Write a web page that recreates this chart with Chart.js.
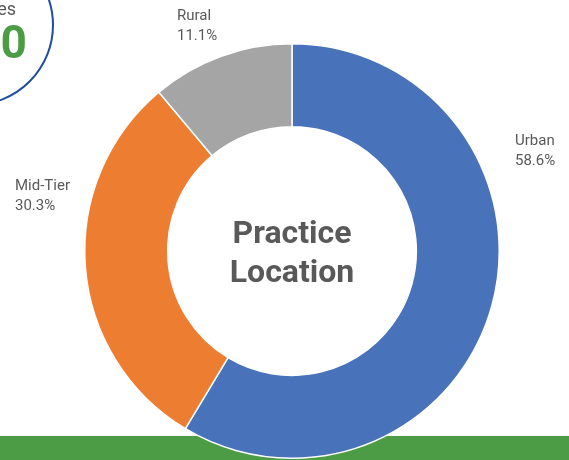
<!DOCTYPE html>
<html>
<head>
<meta charset="utf-8">
<script src="https://cdn.jsdelivr.net/npm/chart.js@4"></script>
<style>
    html, body { margin: 0; padding: 0; background: #fff; }
    #wrap { width: 569px; height: 460px; position: relative; }
</style>
</head>
<body>
<div id="wrap"><canvas id="locationChart"></canvas></div>
<script>
// Data
const categories = ['Urban', 'Mid-Tier', 'Rural'];
const shares = [58.6, 30.3, 11.1];
const sliceColors = ['#4872B9', '#ED7D31', '#A5A5A5'];
const centerLines = ['Practice', 'Location'];

// label anchor positions (text only)
const labelSpots = [
    { x: 515, y: 141 },
    { x: 15, y: 186 },
    { x: 177, y: 16 }
];

// Background bits: green band at bottom, partial badge at top-left
const backdrop = {
    id: 'backdrop',
    beforeDatasetsDraw(chart) {
        const ctx = chart.ctx;
        ctx.save();
        ctx.fillStyle = '#4C9C45';
        ctx.fillRect(0, 436, chart.width, chart.height - 436);

        ctx.beginPath();
        ctx.arc(-27, 25, 80, 0, Math.PI * 2);
        ctx.fillStyle = '#fff';
        ctx.fill();
        ctx.lineWidth = 2;
        ctx.strokeStyle = '#1F4E9C';
        ctx.stroke();

        ctx.textAlign = 'right';
        ctx.textBaseline = 'middle';
        ctx.fillStyle = '#595959';
        ctx.font = '18px Roboto';
        ctx.fillText('Practices', 16, 10);
        ctx.fillStyle = '#4C9C45';
        ctx.font = 'bold 46px Roboto';
        ctx.fillText('110', 27, 46);
        ctx.restore();
    }
};

// Centre title and outside labels
const annotations = {
    id: 'annotations',
    afterDraw(chart) {
        const ctx = chart.ctx;
        const arc = chart.getDatasetMeta(0).data[0];
        ctx.save();
        ctx.fillStyle = '#595959';
        ctx.textAlign = 'center';
        ctx.textBaseline = 'middle';
        ctx.font = 'bold 32px Roboto';
        ctx.fillText(centerLines[0], arc.x, arc.y - 16);
        ctx.fillText(centerLines[1], arc.x, arc.y + 23);

        ctx.textAlign = 'left';
        ctx.font = '15px Roboto';
        categories.forEach((name, i) => {
            const p = labelSpots[i];
            ctx.fillText(name, p.x, p.y);
            ctx.fillText(shares[i].toFixed(1) + '%', p.x, p.y + 20);
        });
        ctx.restore();
    }
};

const ctx = document.getElementById('locationChart').getContext('2d');
new Chart(ctx, {
    type: 'doughnut',
    data: {
        labels: categories,
        datasets: [{
            data: shares,
            backgroundColor: sliceColors,
            borderColor: '#fff',
            borderWidth: 1.5
        }]
    },
    options: {
        responsive: true,
        maintainAspectRatio: false,
        animation: false,
        cutout: '60%',
        layout: {
            padding: { left: 84, right: 69, top: 42, bottom: 0 }
        },
        plugins: {
            legend: { display: false },
            tooltip: { enabled: false }
        }
    },
    plugins: [backdrop, annotations]
});
</script>
</body>
</html>
